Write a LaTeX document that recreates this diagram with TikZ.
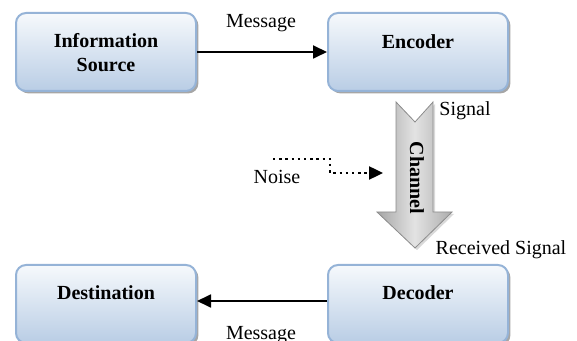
\documentclass[tikz,border=0pt]{standalone}
\usepackage{fontspec}
\setmainfont{Liberation Serif}
\usetikzlibrary{arrows.meta,shadows}
\definecolor{boxtop}{HTML}{F6F9FC}
\definecolor{boxbot}{HTML}{B9CDE5}
\definecolor{boxline}{HTML}{95B3D7}
\tikzset{
  block/.style={draw=boxline, line width=1pt, rounded corners=5pt, top color=boxtop, bottom color=boxbot,
    minimum width=90pt, minimum height=39pt,
    drop shadow={shadow xshift=1.2pt, shadow yshift=-1.2pt, fill=black, opacity=0.35}},
  title/.style={font=\bfseries, align=center},
  flow/.style={line width=0.9pt, -{Triangle[length=7pt,width=6.5pt]}},
}
\begin{document}
\begin{tikzpicture}[x=0.5pt, y=-0.5pt, font=\fontsize{10}{11}\selectfont]
    \useasboundingbox (0,0) rectangle (577,341);
    \clip (0,0) rectangle (577,341);
    % Blocks
    \node[block] (src) at (106,52) {};
    \node[block] (enc) at (418,52) {};
    \node[block] (dst) at (106,304) {};
    \node[block] (dec) at (418,304) {};
    \node[title] (srct) at (106,53) {Information\\Source};
    \node[title] (enct) at (418,42) {Encoder};
    \node[title] (dstt) at (106,293) {Destination};
    \node[title] (dect) at (418,293) {Decoder};
    % Messages
    \draw[flow] (src) -- (enc);
    \draw[flow] ([yshift=1.5pt]dec.west) -- ([yshift=1.5pt]dst.east);
    \node (msg1) at (261,23) {Message};
    \node (msg2) at (261,335) {Message};
    % Channel
    \draw[gray!90, left color=gray!70, right color=gray!65, middle color=gray!22,
      drop shadow={shadow xshift=1pt, shadow yshift=-1pt, opacity=0.3}]
      (396,102) -- (415,122) -- (433,102) -- (433,212) -- (452,212) -- (415,248) -- (377,212) -- (396,212) -- cycle;
    \node[title, rotate=-90] (chn) at (417,178) {Channel};
    \node (sig) at (465,111) {Signal};
    \node (rsig) at (501,250) {Received Signal};
    % Noise
    \node (nse) at (277,177) {Noise};
    \coordinate (nz) at (273,159);
    \coordinate (ch) at (383,173);
    \draw[flow, line width=1.2pt, dash pattern=on 1.2pt off 1.9pt] (nz) -- (330,159) -- (330,173) -- (ch);
\end{tikzpicture}
\end{document}
